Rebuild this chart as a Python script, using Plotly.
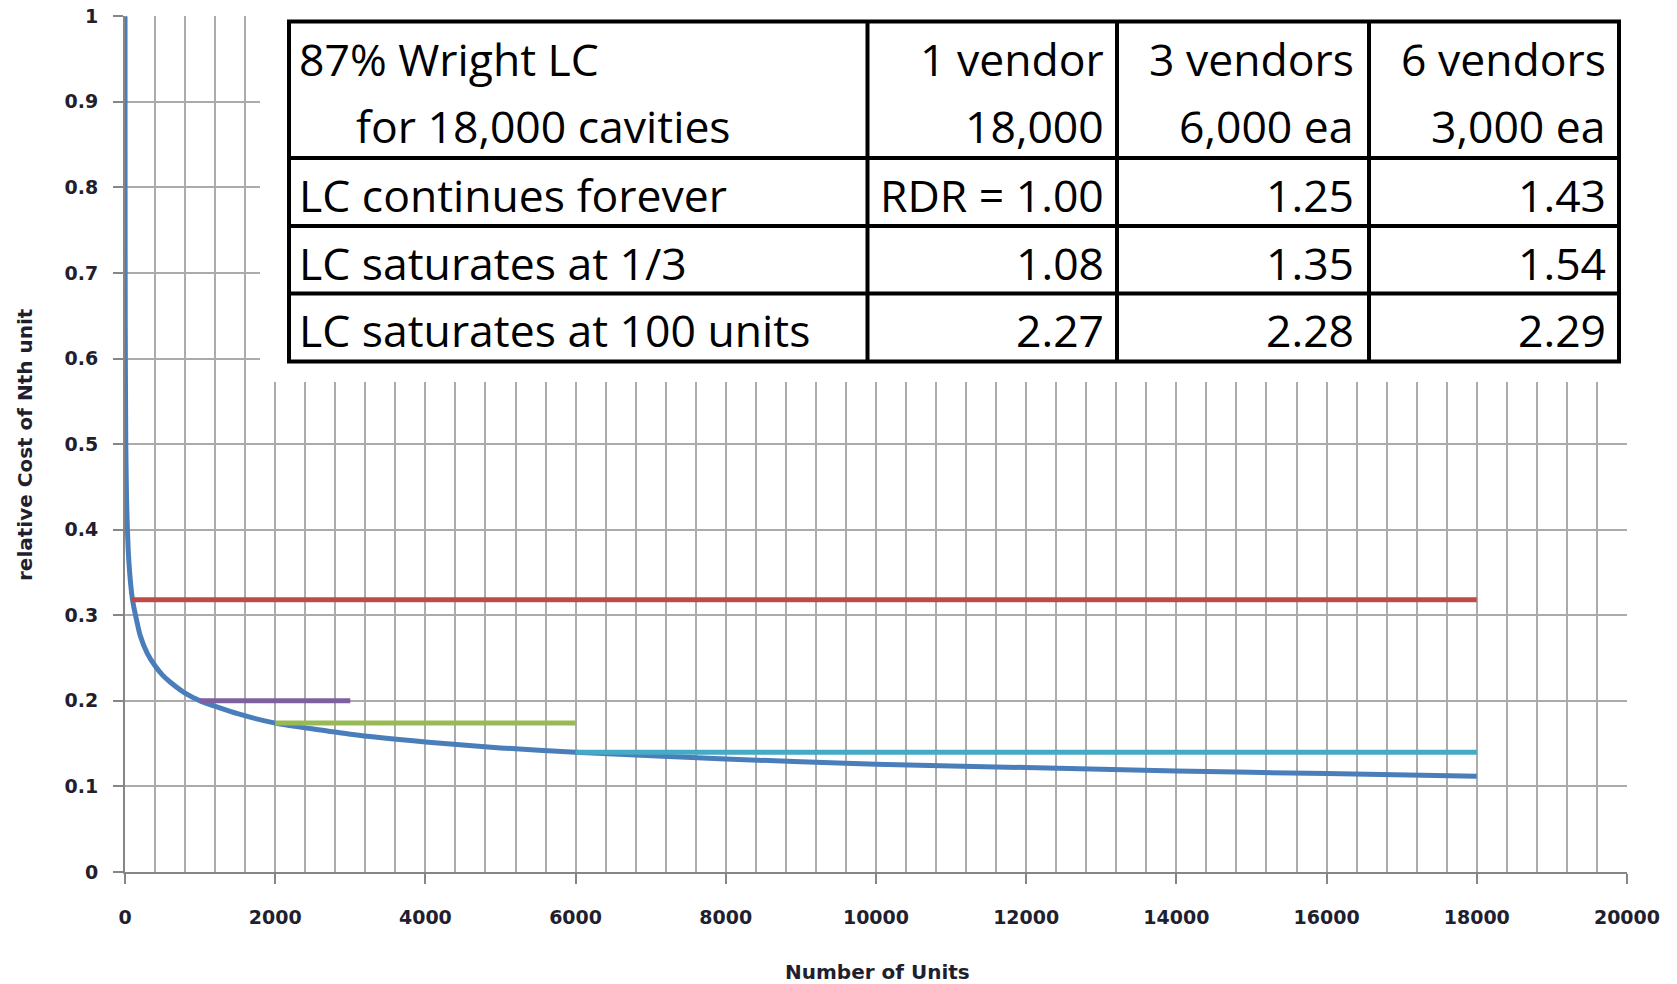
import plotly.graph_objects as go

# ---------------- data ----------------
units = [0.3, 1, 3, 10, 20, 50, 100, 200, 300, 400, 500, 600, 800, 1000, 1500,
         2000, 3000, 4000, 5000, 6000, 8000, 10000, 12000, 14000, 16000, 18000]
cost = [1.0, 0.80, 0.643, 0.505, 0.439, 0.365, 0.318, 0.277, 0.255, 0.241, 0.230,
        0.222, 0.209, 0.200, 0.185, 0.174, 0.161, 0.152, 0.145, 0.140, 0.132,
        0.126, 0.122, 0.118, 0.115, 0.112]

sat_start = [80, 1000, 2000, 6000]
sat_end = [18000, 3000, 6000, 18000]
sat_level = [0.318, 0.200, 0.174, 0.140]
sat_colors = ["#be4b48", "#7d60a0", "#98b954", "#46aac5"]

x_ticks = [0, 2000, 4000, 6000, 8000, 10000, 12000, 14000, 16000, 18000, 20000]
y_ticks = [0, 0.1, 0.2, 0.3, 0.4, 0.5, 0.6, 0.7, 0.8, 0.9, 1]

# table contents
head_left = ["87% Wright LC", "for 18,000 cavities"]
col_heads = ["1 vendor", "3 vendors", "6 vendors"]
col_subs = ["18,000", "6,000 ea", "3,000 ea"]
row_labels = ["LC continues forever", "LC saturates at 1/3", "LC saturates at 100 units"]
row_values = [["RDR = 1.00", "1.25", "1.43"],
              ["1.08", "1.35", "1.54"],
              ["2.27", "2.28", "2.29"]]

# ---------------- layout geometry (page pixels) ----------------
W, H = 1677, 984
OFF = 8                      # browser body margin
L, R, T, B = 125, 1627, 16, 872   # plot area in page pixels
ML, MT = L - OFF, T - OFF
MR, MB = W - (R - OFF), H - (B - OFF)
PW, PH = R - L, B - T


def px(x):
    return (x - L) / PW


def py(y):
    return (B - y) / PH


fig = go.Figure()
fig.add_trace(go.Scatter(x=units, y=cost, mode="lines",
                         line=dict(color="#4a7ebb", width=5, shape="spline", smoothing=0.5),
                         showlegend=False, hoverinfo="skip"))
for s, e, lv, c in zip(sat_start, sat_end, sat_level, sat_colors):
    fig.add_trace(go.Scatter(x=[s, e], y=[lv, lv], mode="lines", line=dict(color=c, width=5),
                             showlegend=False, hoverinfo="skip"))

GRID = "#ababab"
AX = "#868686"
tickfont = dict(family="DejaVu Sans", size=19, color="#1f1f2f", weight="bold")

fig.update_xaxes(range=[0, 20000.5], tickvals=x_ticks, tickformat="d", ticks="outside", ticklen=10, tickwidth=2,
                 tickcolor=AX, showline=True, linecolor=AX, linewidth=2, showgrid=True, gridcolor=GRID,
                 gridwidth=2, minor=dict(dtick=400, showgrid=True, gridcolor=GRID, gridwidth=2, ticks=""),
                 zeroline=False, tickfont=tickfont, ticklabelstandoff=17, ticklabeloverflow="allow",
                 layer="below traces")
fig.update_yaxes(range=[0, 1.0002], tickvals=y_ticks, ticks="outside", ticklen=10, tickwidth=2, tickcolor=AX,
                 showline=True, linecolor=AX, linewidth=2, showgrid=True, gridcolor=GRID, gridwidth=2,
                 zeroline=False, tickfont=tickfont, ticklabelstandoff=11, ticklabeloverflow="allow",
                 layer="below traces")

shapes = []
# white panel behind the table
shapes.append(dict(type="rect", xref="paper", yref="paper", x0=px(260), x1=px(1640), y0=py(382), y1=py(0),
                   fillcolor="white", line=dict(width=0), layer="above"))
LW = 4
tl, tr, tt, tb = 289, 1619, 21.5, 361.5
shapes.append(dict(type="rect", xref="paper", yref="paper", x0=px(tl), x1=px(tr), y0=py(tb), y1=py(tt),
                   line=dict(color="black", width=LW), layer="above"))
for yy in [158, 226, 293.5]:
    shapes.append(dict(type="line", xref="paper", yref="paper", x0=px(tl), x1=px(tr), y0=py(yy), y1=py(yy),
                       line=dict(color="black", width=LW), layer="above"))
for xx in [867.5, 1117, 1369]:
    shapes.append(dict(type="line", xref="paper", yref="paper", x0=px(xx), x1=px(xx), y0=py(tb), y1=py(tt),
                       line=dict(color="black", width=LW), layer="above"))

tfont = dict(family="Open Sans", size=44.5, color="black")
ann = []
ann.append(dict(text=head_left[0], x=px(297), y=py(58), xanchor="left", yanchor="middle"))
ann.append(dict(text=head_left[1], x=px(354), y=py(125), xanchor="left", yanchor="middle"))
col_right = [1106, 1356, 1608]
for i in range(3):
    ann.append(dict(text=col_heads[i], x=px(col_right[i]), y=py(58), xanchor="right", yanchor="middle"))
    ann.append(dict(text=col_subs[i], x=px(col_right[i]), y=py(125), xanchor="right", yanchor="middle"))
row_y = [194, 262, 330]
for r in range(3):
    ann.append(dict(text=row_labels[r], x=px(297), y=py(row_y[r]), xanchor="left", yanchor="middle"))
    for i in range(3):
        ann.append(dict(text=row_values[r][i], x=px(col_right[i]), y=py(row_y[r]),
                        xanchor="right", yanchor="middle"))
for a in ann:
    a.update(xref="paper", yref="paper", showarrow=False, font=tfont)

title_font = dict(family="DejaVu Sans", size=20, color="#1f1f2f", weight="bold")
ann.append(dict(text="Number of Units", x=px(877), y=py(972), xref="paper", yref="paper", showarrow=False,
                xanchor="center", yanchor="middle", font=title_font))
ann.append(dict(text="relative Cost of Nth unit", x=px(25), y=py(444), xref="paper", yref="paper",
                showarrow=False, xanchor="center", yanchor="middle", textangle=-90, font=title_font))

fig.update_layout(width=W, height=H, margin=dict(l=ML, r=MR, t=MT, b=MB, autoexpand=False),
                  plot_bgcolor="white", paper_bgcolor="white", shapes=shapes, annotations=ann,
                  showlegend=False)

fig.write_html("out.html")
